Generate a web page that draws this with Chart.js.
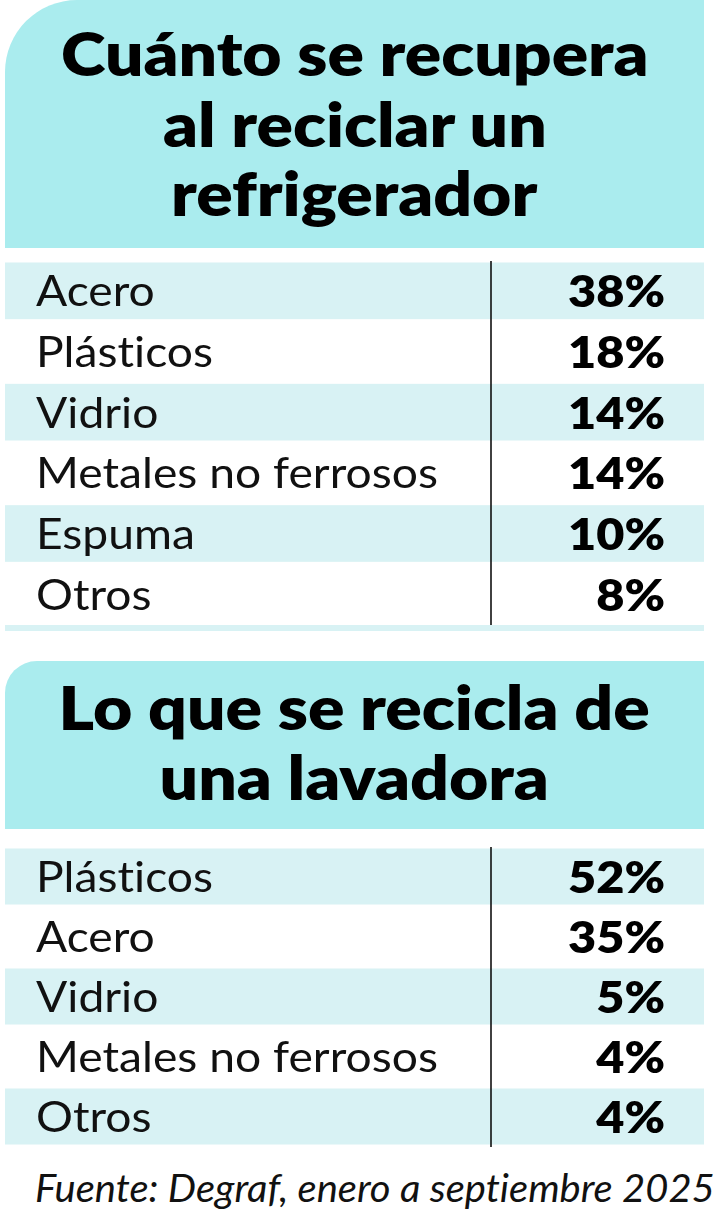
<!DOCTYPE html>
<html lang="es">
<head>
<meta charset="utf-8">
<title>Reciclaje de refrigeradores y lavadoras</title>
<script src="https://cdn.jsdelivr.net/npm/chart.js@4.4.1/dist/chart.umd.min.js"></script>
<style>
  html, body { margin: 0; padding: 0; background: #fff; }
  body { width: 717px; height: 1214px; position: relative; overflow: hidden; font-family: Lato, "Open Sans", sans-serif; color: #000; font-variant-ligatures: none; }
  .head { position: absolute; left: 5px; width: 699px; background: #aaecee; }
  #head1 { top: 0; height: 248px; border-top-left-radius: 72px; }
  #head2 { top: 661px; height: 168px; border-top-left-radius: 32px; }
  .tline { position: absolute; left: 0; width: 100%; text-align: center; font-size: 61px; line-height: 61px; font-weight: 800; white-space: nowrap; }
  .tline span.t { display: inline-block; transform-origin: center; }
  .bl { display: inline-block; width: 0; height: 0; vertical-align: baseline; }
  canvas { position: absolute; left: 0; }
  #strip { position: absolute; left: 5px; width: 699px; top: 625px; height: 6px; background: #d8f2f4; }
  #foot { position: absolute; left: 35px; font-size: 39px; line-height: 39px; font-style: italic; white-space: nowrap; transform-origin: left; color: #111; }
</style>
</head>
<body>
<div class="head" id="head1"></div>
<div class="head" id="head2"></div>
<div id="strip"></div>
<canvas id="fridgeChart" width="717" height="364" style="top:261px"></canvas>
<canvas id="washerChart" width="717" height="300" style="top:847px"></canvas>
<div id="foot"></div>

<script>
// datos
const fridgeTitle = ['Cuánto se recupera', 'al reciclar un', 'refrigerador'];
const fridgeLabels = ['Acero', 'Plásticos', 'Vidrio', 'Metales no ferrosos', 'Espuma', 'Otros'];
const fridgeValues = [38, 18, 14, 14, 10, 8];

const washerTitle = ['Lo que se recicla de', 'una lavadora'];
const washerLabels = ['Plásticos', 'Acero', 'Vidrio', 'Metales no ferrosos', 'Otros'];
const washerValues = [52, 35, 5, 4, 4];

const source = 'Fuente: Degraf, enero a septiembre 2025';

const shade = '#d8f2f4';

// titulos en HTML, ajustados al ancho del original
function titleLines(headId, lines, baselines, firstWidth) {
  const head = document.getElementById(headId);
  const top = head.offsetTop;
  let sx = 1;
  lines.forEach((txt, i) => {
    const div = document.createElement('div');
    div.className = 'tline';
    div.innerHTML = '<span class="t"></span><span class="bl"></span>';
    div.querySelector('.t').textContent = txt;
    head.appendChild(div);
    if (i === 0) sx = firstWidth / div.querySelector('.t').offsetWidth;
    div.querySelector('.t').style.transform = 'scaleX(' + sx + ')';
    const off = div.querySelector('.bl').offsetTop;
    div.style.top = (baselines[i] - top - off) + 'px';
  });
}

titleLines('head1', fridgeTitle, [76, 147, 216], 588);
titleLines('head2', washerTitle, [730, 800], 591);

const foot = document.getElementById('foot');
foot.innerHTML = '<span class="t"></span><span class="bl"></span>';
foot.querySelector('.t').textContent = source;
foot.style.transform = 'scaleX(' + (680 / foot.offsetWidth) + ')';
foot.style.top = (1202 - foot.querySelector('.bl').offsetTop) + 'px';

const tablePlugin = {
  id: 'tableRows',
  beforeDatasetsDraw(chart) {
    const ctx = chart.ctx;
    const y = chart.scales.y;
    const n = chart.data.labels.length;
    const rowH = y.height / n;
    ctx.save();
    ctx.fillStyle = shade;
    chart.data.labels.forEach((l, i) => {
      if (i % 2 !== 0) return;
      const c = y.getPixelForValue(i);
      ctx.fillRect(5, c - rowH / 2 + 1.5, 699, rowH - 4);
    });
    ctx.restore();
  },
  afterDatasetsDraw(chart) {
    const ctx = chart.ctx;
    const meta = chart.getDatasetMeta(0);
    const area = chart.chartArea;
    ctx.save();
    // separador vertical
    ctx.strokeStyle = '#111';
    ctx.lineWidth = 1.6;
    ctx.beginPath();
    ctx.moveTo(491, area.top);
    ctx.lineTo(491, area.bottom);
    ctx.stroke();

    // espaciado minimo para evitar la ligadura "ti"
    ctx.letterSpacing = '0.01px';
    ctx.font = '42px Lato';
    const sxL = 402 / ctx.measureText('Metales no ferrosos').width;
    ctx.font = '800 44px Lato';
    const sxP = 97 / ctx.measureText('38%').width;

    meta.data.forEach((bar, i) => {
      ctx.fillStyle = '#111';
      ctx.font = '42px Lato';
      ctx.textAlign = 'left';
      ctx.textBaseline = 'alphabetic';
      ctx.save();
      ctx.translate(36, bar.y + 15);
      ctx.scale(sxL, 1);
      ctx.fillText(chart.data.labels[i], 0, 0);
      ctx.restore();

      ctx.fillStyle = '#000';
      ctx.font = '800 44px Lato';
      ctx.textAlign = 'right';
      ctx.save();
      ctx.translate(665, bar.y + 16);
      ctx.scale(sxP, 1);
      ctx.fillText(chart.data.datasets[0].data[i] + '%', 0, 0);
      ctx.restore();
    });
    ctx.restore();
  }
};

function tableChart(id, labels, values) {
  return new Chart(document.getElementById(id), {
    type: 'bar',
    data: {
      labels: labels,
      datasets: [{ data: values, backgroundColor: 'rgba(0,0,0,0)', borderWidth: 0 }]
    },
    options: {
      indexAxis: 'y',
      responsive: false,
      animation: false,
      events: [],
      devicePixelRatio: 1,
      layout: { padding: 0 },
      plugins: { legend: { display: false }, tooltip: { enabled: false } },
      scales: {
        x: { display: false, min: 0, max: 100 },
        y: { display: false, offset: true }
      }
    },
    plugins: [tablePlugin]
  });
}

tableChart('fridgeChart', fridgeLabels, fridgeValues);
tableChart('washerChart', washerLabels, washerValues);
</script>
</body>
</html>
